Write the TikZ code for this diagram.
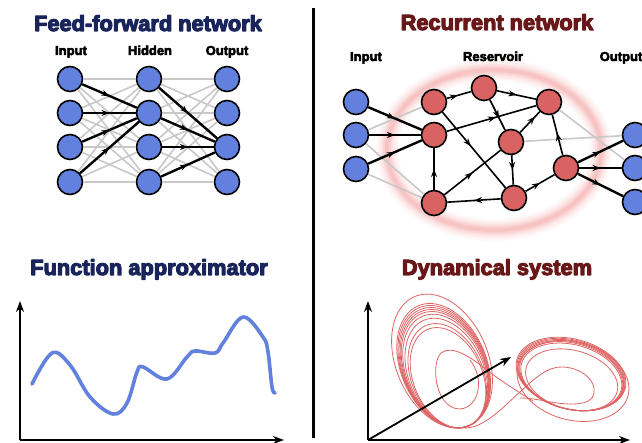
\documentclass[tikz,border=0pt]{standalone}
\usepackage{fontspec}
\setmainfont{Liberation Sans}
\usetikzlibrary{arrows.meta,decorations.markings}
\newcommand{\heavytxt}[2]{\special{pdf:literal direct 2 Tr #1 w 1 j}#2\special{pdf:literal direct 0 Tr}}
% tilted ellipse in pixel coordinates (y down): cx, cy, a, b, theta
\newcommand{\tiltell}[5]{%
  \draw[attr] plot[domain=0:360,samples=73,smooth]
    ({(#1)+(#3)*cos(\x)*cos(#5)+(#4)*sin(\x)*sin(#5)},
     {(#2)-(#3)*cos(\x)*sin(#5)+(#4)*sin(\x)*cos(#5)});}
\definecolor{navy}{RGB}{24,36,90}
\definecolor{darkred}{RGB}{104,24,24}
\definecolor{nblue}{RGB}{98,128,222}
\definecolor{nred}{RGB}{217,99,99}
\definecolor{lgray}{RGB}{200,200,200}
\definecolor{attrc}{RGB}{222,100,100}
\definecolor{glowc}{RGB}{240,140,140}
\begin{document}
\begin{tikzpicture}[x=1pt,y=-1pt,
  neuron/.style={circle,draw=black,line width=1.6pt,minimum size=25pt,inner sep=0pt},
  bneuron/.style={neuron,fill=nblue},
  rneuron/.style={neuron,fill=nred},
  gedge/.style={draw=lgray,line width=1.6pt},
  midarrow/.style={postaction={decorate,decoration={markings,mark=at position #1 with {\arrow{Stealth[length=8pt,width=6pt]}}}}},
  bedge/.style={draw=black,line width=2.4pt,midarrow=#1},
  bedge/.default=0.5,
  redge/.style={draw=black,line width=1.6pt,midarrow=#1},
  redge/.default=0.5,
  title/.style={font=\bfseries\fontsize{21.8}{24}\selectfont,anchor=base,inner sep=0pt},
  lab/.style={font=\bfseries\fontsize{13}{15}\selectfont,anchor=base,inner sep=0pt},
  axisarrow/.style={line width=1.8pt,-{Stealth[length=11pt,width=8pt]}},
  attr/.style={draw=attrc,line width=0.8pt},
  fcurve/.style={draw=nblue,line width=3.6pt,line cap=round,line join=round}
]
\useasboundingbox (0,0) rectangle (642,443);
\clip (0,0) rectangle (642,443);

% ---------------- titles ----------------
\node[title,text=navy] (t1) at (148,31) {\heavytxt{1.1}{Feed-forward network}};
\node[title,text=darkred] (t2) at (497,30) {\heavytxt{1.1}{Recurrent network}};
\node[title,text=navy] (t3) at (149,275) {\heavytxt{1.1}{Function approximator}};
\node[title,text=darkred] (t4) at (497,275) {\heavytxt{1.1}{Dynamical system}};

% divider
\coordinate (dv1) at (313,8);
\coordinate (dv2) at (313,438);
\draw[line width=3pt] (dv1) -- (dv2);

% ---------------- feed-forward ----------------
\node[lab] (lin) at (71,55) {\heavytxt{0.5}{Input}};
\node[lab] (lhid) at (150,55) {\heavytxt{0.5}{Hidden}};
\node[lab] (lout) at (227,55) {\heavytxt{0.5}{Output}};
\foreach \i/\y in {1/79,2/113,3/147,4/182}{
  \node[bneuron] (fi\i) at (70,\y) {};
  \node[bneuron] (fh\i) at (149,\y) {};
  \node[bneuron] (fo\i) at (227,\y) {};
}
\foreach \i in {1,...,4}{
  \foreach \j in {1,3,4}{\draw[gedge] (fi\i) -- (fh\j);}
  \foreach \j in {1,2,4}{\draw[gedge] (fh\i) -- (fo\j);}
}
\foreach \i in {1,...,4}{
  \draw[bedge] (fi\i) -- (fh2);
  \draw[bedge] (fh\i) -- (fo3);
}

% ---------------- recurrent ----------------
\foreach \w/\o in {22/0.07,17/0.09,12/0.13,8/0.17,4/0.22}{
  \draw[glowc,line width=\w pt,opacity=\o] (494,150) ellipse [x radius=107,y radius=80];
}
\node[lab] (rlin) at (366,61) {\heavytxt{0.5}{Input}};
\node[lab] (rlres) at (493,61) {\heavytxt{0.5}{Reservoir}};
\node[lab] (rlout) at (621,61) {\heavytxt{0.5}{Output}};

\node[bneuron] (ri1) at (356,102) {};
\node[bneuron] (ri2) at (356,135) {};
\node[bneuron] (ri3) at (356,169) {};
\node[rneuron] (ra) at (434,102) {};
\node[rneuron] (rb) at (484,88) {};
\node[rneuron] (rc) at (549,102) {};
\node[rneuron] (rd) at (434,135) {};
\node[rneuron] (re) at (511,142) {};
\node[rneuron] (rf) at (566,168) {};
\node[rneuron] (rg) at (434,203) {};
\node[rneuron] (rh) at (514,198) {};
\node[bneuron] (ro1) at (635,135) {};
\node[bneuron] (ro2) at (635,168) {};
\node[bneuron] (ro3) at (635,202) {};

\draw[gedge] (ri2) -- (ra);
\draw[gedge] (ri2) -- (rg);
\draw[gedge] (ri3) -- (rg);
\draw[gedge] (re) -- (ro1);
\draw[gedge] (rc) -- (ro2);

\draw[bedge] (ri1) -- (rd);
\draw[bedge] (ri2) -- (rd);
\draw[bedge] (ri3) -- (rd);
\draw[redge=0.45] (ra) -- (rb);
\draw[redge] (rb) -- (rc);
\draw[redge=0.45] (ra) -- (rh);
\draw[redge=0.6] (rb) -- (re);
\draw[redge=0.75] (re) -- (rc);
\draw[redge=0.55] (rd) -- (rc);
\draw[redge] (rg) -- (rd);
\draw[redge] (rg) -- (re);
\draw[redge] (rh) -- (rg);
\draw[redge] (re) -- (rh);
\draw[redge] (rh) -- (rf);
\draw[redge=0.55] (rf) -- (rc);
\draw[bedge] (rf) -- (ro1);
\draw[bedge] (rf) -- (ro2);
\draw[bedge] (rf) -- (ro3);

% ---------------- function approximator ----------------
\coordinate (fo) at (20,440);
\coordinate (fy) at (20,301);
\coordinate (fx) at (284,440);
\draw[axisarrow] (fo) -- (fy);
\draw[axisarrow] (fo) -- (fx);
\draw[fcurve] plot[smooth,tension=0.6] coordinates {(32,384) (52,353) (70,365) (90,397) (113,414) (127,403) (137,372) (143,367) (167,379) (187,357) (195,351) (215,353) (223,343) (243,317) (263,337) (268,352) (272,387) (275,393)};

% ---------------- dynamical system ----------------
% left wing
\foreach \s in {1.0,0.93,0.915,0.90,0.885,0.87,0.85,0.82,0.78,0.75}{
  \tiltell{466+\s*(442-466)}{428+\s*(361-428)}{46*\s}{70*\s}{23}
}
% right wing
\foreach \s in {1.0,0.985,0.97,0.955,0.94,0.92,0.84}{
  \tiltell{575+\s*(571-575)}{410+\s*(374-410)}{56*\s}{35*\s}{-15}
}
\tiltell{573}{381}{57}{39}{-15}
% connecting trajectories
\draw[attr] (533,401) .. controls (515,390) and (500,380) .. (488,371)
  .. controls (472,358) and (452,344) .. (441,353)
  .. controls (432,362) and (434,396) .. (450,406)
  .. controls (462,414) and (476,405) .. (478,390)
  .. controls (480,378) and (476,368) .. (470,360);
\draw[attr] (465,428) .. controls (485,428) and (505,405) .. (520,392)
  .. controls (535,378) and (548,366) .. (563,367)
  .. controls (585,368) and (600,385) .. (592,398)
  .. controls (585,407) and (560,404) .. (545,401)
  .. controls (535,399) and (527,398) .. (520,398);

\coordinate (do) at (368,440);
\coordinate (dy) at (368,301);
\coordinate (dx) at (630,440);
\coordinate (dz) at (511,357);
\draw[axisarrow] (do) -- (dy);
\draw[axisarrow] (do) -- (dx);
\draw[axisarrow] (do) -- (dz);
\end{tikzpicture}
\end{document}
